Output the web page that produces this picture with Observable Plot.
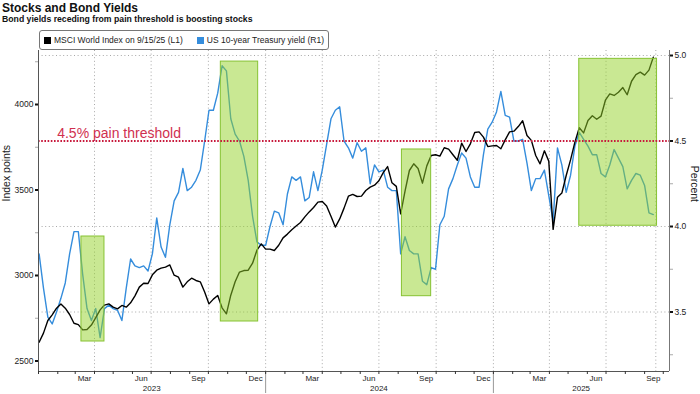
<!DOCTYPE html>
<html>
<head>
<meta charset="utf-8">
<script src="https://cdn.jsdelivr.net/npm/d3@7"></script>
<script src="https://cdn.jsdelivr.net/npm/@observablehq/plot@0.6"></script>
<style>
  body { margin: 0; background: #fff; font-family: "Liberation Sans", Arial, sans-serif; }
  #wrap { position: relative; width: 700px; height: 394px; overflow: hidden; background: #fff; }
  #title { position: absolute; left: 2px; top: 1.5px; font-size: 12px; font-weight: bold; line-height: 1; color: #111; white-space: nowrap; }
  #subtitle { position: absolute; left: 2px; top: 15px; font-size: 8.7px; font-weight: bold; line-height: 1; color: #111; white-space: nowrap; }
  #chart { position: absolute; left: 0; top: 30px; }
  #legend { position: absolute; left: 39px; top: 30px; width: 290px; height: 20px; box-sizing: border-box;
            border: 1px solid #777; border-radius: 3px; background: #fff; font-size: 8.5px; color: #222;
            display: flex; align-items: center; padding-left: 4px; white-space: nowrap; z-index: 2; }
  .sw { display: inline-block; width: 7px; height: 7px; margin-right: 3px; }
  .item { display: inline-flex; align-items: center; margin-right: 14px; }
</style>
</head>
<body>
<div id="wrap">
  <div id="title">Stocks and Bond Yields</div>
  <div id="subtitle">Bond yields receding from pain threshold is boosting stocks</div>
  <div id="chart"></div>
  <div id="legend"></div>
</div>
<script>
// ---------------- data (weekly readings from the chart) ----------------
const dates = [
"2023-01-02","2023-01-09","2023-01-16","2023-01-23","2023-01-30","2023-02-06","2023-02-13","2023-02-20","2023-02-27",
"2023-03-06","2023-03-13","2023-03-20","2023-03-27","2023-04-03","2023-04-10","2023-04-17","2023-04-24","2023-05-01",
"2023-05-08","2023-05-15","2023-05-22","2023-05-29","2023-06-05","2023-06-12","2023-06-19","2023-06-26","2023-07-03",
"2023-07-10","2023-07-17","2023-07-24","2023-07-31","2023-08-07","2023-08-14","2023-08-21","2023-08-28","2023-09-04",
"2023-09-11","2023-09-18","2023-09-25","2023-10-02","2023-10-09","2023-10-16","2023-10-23","2023-10-30","2023-11-06",
"2023-11-13","2023-11-20","2023-11-27","2023-12-04","2023-12-11","2023-12-18","2023-12-25",
"2024-01-01","2024-01-08","2024-01-15","2024-01-22","2024-01-29","2024-02-05","2024-02-12","2024-02-19","2024-02-26",
"2024-03-04","2024-03-11","2024-03-18","2024-03-25","2024-04-01","2024-04-08","2024-04-15","2024-04-22","2024-04-29",
"2024-05-06","2024-05-13","2024-05-20","2024-05-27","2024-06-03","2024-06-10","2024-06-17","2024-06-24","2024-07-01",
"2024-07-08","2024-07-15","2024-07-22","2024-07-29","2024-08-05","2024-08-12","2024-08-19","2024-08-26","2024-09-02",
"2024-09-09","2024-09-16","2024-09-23","2024-09-30","2024-10-07","2024-10-14","2024-10-21","2024-10-28","2024-11-04",
"2024-11-11","2024-11-18","2024-11-25","2024-12-02","2024-12-09","2024-12-16","2024-12-23","2024-12-30",
"2025-01-06","2025-01-13","2025-01-20","2025-01-27","2025-02-03","2025-02-10","2025-02-17","2025-02-24","2025-03-03",
"2025-03-10","2025-03-17","2025-03-24","2025-03-31","2025-04-07","2025-04-14","2025-04-21","2025-04-28","2025-05-05",
"2025-05-12","2025-05-19","2025-05-26","2025-06-02","2025-06-09","2025-06-16","2025-06-23","2025-06-30","2025-07-07",
"2025-07-14","2025-07-21","2025-07-28","2025-08-04","2025-08-11","2025-08-18","2025-08-25","2025-09-01","2025-09-08",
"2025-09-15"
];

// MSCI World Index (left axis, index points)
const msci = [
2610,2663,2737,2770,2809,2834,2809,2772,2721,2713,2682,2684,2710,2754,2799,2827,2834,2815,2805,2825,2815,2840,2881,2932,
2955,2953,3004,3031,3043,3049,3062,3002,2990,2932,2963,2984,2971,2963,2903,2834,2862,2883,2811,2776,2885,2963,3020,3029,
3031,3072,3148,3185,
3154,3154,3146,3177,3220,3242,3267,3289,3310,3343,3372,3398,3429,3433,3407,3347,3283,3331,3394,3464,3474,3462,3464,3497,
3517,3528,3554,3602,3637,3542,3521,3361,3493,3614,3653,3626,3540,3641,3702,3706,3698,3747,3739,3706,3674,3774,3725,3770,
3836,3840,3809,3754,3758,
3760,3741,3793,3840,3844,3871,3905,3819,3790,3702,3653,3729,3669,3270,3458,3482,3585,3676,3780,3864,3834,3906,3934,3914,
3932,4025,4062,4053,4072,4099,4057,4136,4175,4189,4172,4201,4277
];

// US 10-year Treasury yield (right axis, percent)
const yields = [
3.84,3.64,3.47,3.43,3.50,3.58,3.67,3.84,3.97,3.97,3.72,3.52,3.45,3.52,3.35,3.52,3.54,3.52,3.51,3.45,3.64,3.81,3.77,3.76,
3.77,3.74,3.84,4.05,3.88,3.82,4.01,4.15,4.20,4.34,4.21,4.23,4.27,4.33,4.50,4.68,4.68,4.78,4.94,4.91,4.63,4.54,4.50,4.41,
4.27,4.06,3.91,3.89,
3.89,4.00,4.09,4.08,4.01,4.19,4.29,4.27,4.29,4.15,4.17,4.32,4.21,4.33,4.48,4.63,4.68,4.70,4.50,4.46,4.40,4.49,4.44,4.46,
4.25,4.36,4.32,4.33,4.23,4.21,4.21,3.84,3.94,3.86,3.84,3.84,3.68,3.66,3.76,3.75,4.01,4.06,4.22,4.28,4.36,4.43,4.40,4.29,
4.23,4.23,4.42,4.57,4.61,
4.67,4.79,4.65,4.64,4.50,4.50,4.51,4.37,4.21,4.28,4.28,4.33,4.18,4.03,4.46,4.36,4.20,4.30,4.47,4.55,4.51,4.47,4.42,4.42,
4.31,4.29,4.36,4.45,4.40,4.35,4.22,4.27,4.31,4.30,4.24,4.08,4.07
];

// Highlight boxes (dates; vertical extent in index points, left axis)
const boxStart  = ["2023-03-11", "2023-10-21", "2024-08-07", "2025-05-19"];
const boxEnd    = ["2023-04-17", "2023-12-20", "2024-09-23", "2025-09-21"];
const boxTop    = [3228, 4251, 3737, 4267];
const boxBottom = [2614, 2731, 2879, 3291];

// Threshold annotation
const threshold = 4.5;
const thresholdLabel = "4.5% pain threshold";
const thresholdLabelDate = "2023-01-31";

// Axes
const xDomain = ["2023-01-01", "2025-10-11"];
const yDomain = [2438.6, 4315.8];
const indexTicks = [2500, 3000, 3500, 4000];
const indexMinor = [2750, 3250, 3750, 4250];
const yieldTicks = [3.5, 4.0, 4.5, 5.0];
const yieldMinor = [3.25, 3.75, 4.25, 4.75];
const yieldGrid = [3.5, 4.0, 5.0];
const gridDates = ["2023-04-01","2023-07-01","2023-10-01","2024-01-01","2024-04-01","2024-07-01","2024-10-01",
                   "2025-01-01","2025-04-01","2025-07-01","2025-09-19"];
const monthLabels = ["2023-03-16","2023-06-15","2023-09-15","2023-12-16","2024-03-16","2024-06-15","2024-09-15",
                     "2024-12-16","2025-03-16","2025-06-15","2025-09-15"];
const yearLabels = ["2023-07-02", "2024-07-01", "2025-05-22"];
const yearSeparators = ["2024-01-01", "2025-01-01"];

const seriesNames = ["MSCI World Index on 9/15/25 (L1)", "US 10-year Treasury yield (R1)"];
const seriesColors = ["#000000", "#358ddc"];

// mapping between right axis (percent) and left axis (index points)
const toIdx = r => 4286.5 + (r - 5) * 1000;
const toYield = v => (v - 4286.5) / 1000 + 5;
const D = s => new Date(s);

const rows = dates.map((d, i) => ({date: D(d), msci: msci[i], yld: yields[i]}));
const boxes = boxStart.map((s, i) => ({x1: D(s), x2: D(boxEnd[i]), y1: boxBottom[i], y2: boxTop[i]}));

const gridStyle = {stroke: "#a8a8a8", strokeDasharray: "1,2.6", strokeWidth: 1};

const chart = Plot.plot({
  width: 700,
  height: 364,
  marginLeft: 38,
  marginRight: 31,
  marginTop: 20,
  marginBottom: 23,
  style: {fontFamily: "'Liberation Sans', Arial, sans-serif", fontSize: "8.5px", color: "#222", background: "#fff"},
  x: {type: "utc", domain: xDomain.map(D)},
  y: {domain: yDomain, label: null},
  marks: [
    Plot.ruleX(gridDates.map(D), gridStyle),
    Plot.ruleY(yieldGrid.map(toIdx), gridStyle),
    Plot.line(rows, {x: "date", y: d => toIdx(d.yld), stroke: seriesColors[1], strokeWidth: 1.4}),
    Plot.line(rows, {x: "date", y: "msci", stroke: seriesColors[0], strokeWidth: 1.4}),
    Plot.rect(boxes, {x1: "x1", x2: "x2", y1: "y1", y2: "y2", fill: "#93d128", fillOpacity: 0.5,
                      stroke: "#86c232", strokeWidth: 1}),
    Plot.ruleY([toIdx(threshold)], {stroke: "#c8193c", strokeWidth: 1.8, strokeDasharray: "1.6,1.6"}),
    Plot.text([thresholdLabel], {x: () => D(thresholdLabelDate), y: () => toIdx(threshold), text: d => d,
                                 textAnchor: "start", dy: -7, fontSize: 14, fill: "#d0304f"}),
    // axis lines
    Plot.ruleX([D(xDomain[0])], {stroke: "#555"}),
    Plot.ruleX([D(xDomain[1])], {stroke: "#777"}),
    Plot.ruleY([yDomain[0]], {stroke: "#555"}),
    // left axis
    Plot.axisY(indexMinor, {anchor: "left", tickSize: 3, stroke: "#aaa", tickFormat: () => "", label: null}),
    Plot.axisY(indexTicks, {anchor: "left", tickSize: 3, tickPadding: 2, strokeWidth: 2, stroke: "#111",
                            tickFormat: d => String(d), label: null, fontSize: 8.5}),
    // right axis
    Plot.axisY(yieldMinor.map(toIdx), {anchor: "right", tickSize: 3, stroke: "#aaa", tickFormat: () => "", label: null}),
    Plot.axisY(yieldTicks.map(toIdx), {anchor: "right", tickSize: 3, tickPadding: 2, strokeWidth: 2, stroke: "#111",
                                       tickFormat: v => toYield(v).toFixed(1), label: null, fontSize: 8.5}),
    // bottom axis
    Plot.axisX(yearSeparators.map(D), {tickSize: 22, stroke: "#999", tickFormat: () => "", label: null}),
    Plot.axisX({ticks: "month", tickSize: 3, stroke: "#333", tickFormat: () => "", label: null}),
    Plot.axisX(monthLabels.map(D), {tickSize: 0, tickPadding: 4, tickFormat: d3.utcFormat("%b"), label: null, fontSize: 8}),
    Plot.axisX(yearLabels.map(D), {tickSize: 0, tickPadding: 14, tickFormat: d3.utcFormat("%Y"), label: null, fontSize: 8}),
    // axis titles
    Plot.text(["Index points"], {frameAnchor: "left", text: d => d, rotate: -90, dx: -32, dy: -9.5, fontSize: 10.5, fill: "#222"}),
    Plot.text(["Percent"], {frameAnchor: "right", text: d => d, rotate: 90, dx: 24.5, dy: -9, fontSize: 10.5, fill: "#222"})
  ]
});
document.getElementById("chart").appendChild(chart);

// legend
const legend = document.getElementById("legend");
seriesNames.forEach((name, i) => {
  const item = document.createElement("span");
  item.className = "item";
  const sw = document.createElement("span");
  sw.className = "sw";
  sw.style.background = seriesColors[i];
  item.appendChild(sw);
  item.appendChild(document.createTextNode(name));
  legend.appendChild(item);
});
</script>
</body>
</html>
